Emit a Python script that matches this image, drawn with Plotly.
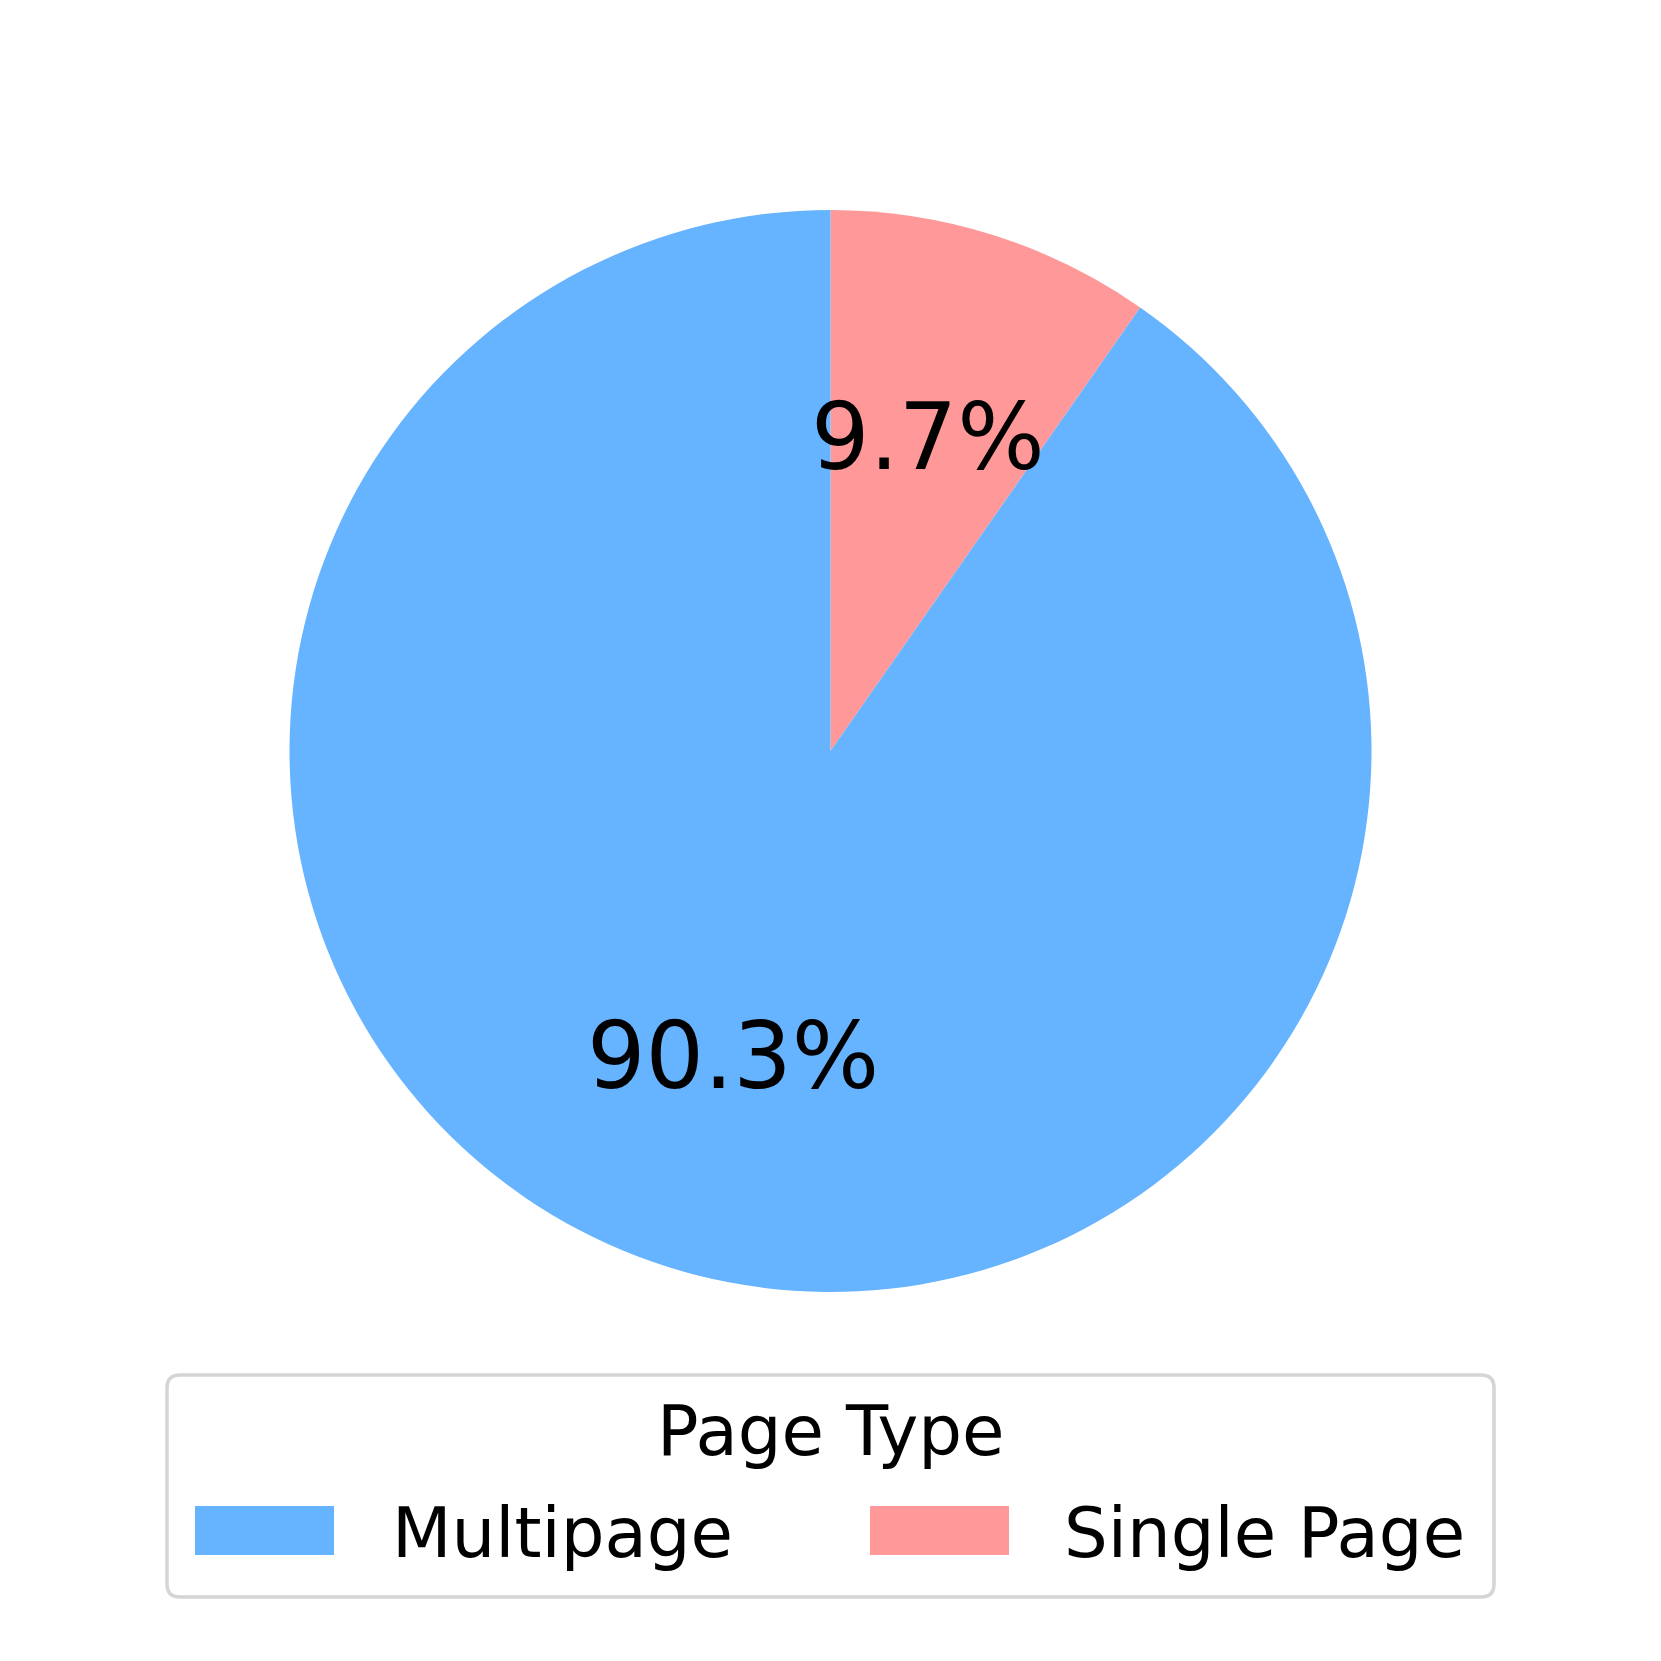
import math
import plotly.graph_objects as go

# ---- data ----
categories = ["Multipage", "Single Page"]
shares = [90.3, 9.7]
colors = ["#66b3ff", "#ff9999"]
legend_title = "Page Type"

W = H = 1661
FONT = "DejaVu Sans"
OFF = 8  # page body margin in the browser

# pie geometry (pixels)
cx, cy, R = 830.5, 751.0, 541.0
pct_distance = 0.6
start_angle = 90.0  # degrees, math convention; wedges go counterclockwise

def px_x(x):
    return (x - OFF) / W

def px_y(y):
    return 1 - (y - OFF) / H

fig = go.Figure()
# Plotly draws clockwise from 12 o'clock; reversing the order reproduces the
# counterclockwise-from-top layout (Multipage starting at 12 o'clock going left).
fig.add_trace(go.Pie(
    labels=categories[::-1],
    values=shares[::-1],
    marker=dict(colors=colors[::-1], line=dict(width=0)),
    sort=False,
    direction="clockwise",
    rotation=0,
    textinfo="none",
    hoverinfo="label+percent",
    showlegend=False,
    domain=dict(x=[px_x(cx - R), px_x(cx + R)], y=[px_y(cy + R), px_y(cy - R)]),
))

annotations = []
shapes = []

# percentage labels at the middle of each wedge
total = sum(shares)
theta = start_angle
for v in shares:
    frac = v / total
    mid = math.radians(theta + frac * 360 / 2)
    lx = cx + pct_distance * R * math.cos(mid)
    ly = cy - pct_distance * R * math.sin(mid)
    annotations.append(dict(
        x=px_x(lx), y=px_y(ly), xref="paper", yref="paper",
        text=f"{frac*100:.1f}%", showarrow=False,
        xanchor="center", yanchor="middle", yshift=4,
        font=dict(family=FONT, size=92, color="black"),
    ))
    theta += frac * 360

# ---- legend (drawn) ----
bx0, bx1, by0, by1, rad = 167, 1494, 1375, 1597, 13
path = (f"M {px_x(bx0+rad)},{px_y(by0)} L {px_x(bx1-rad)},{px_y(by0)} "
        f"Q {px_x(bx1)},{px_y(by0)} {px_x(bx1)},{px_y(by0+rad)} "
        f"L {px_x(bx1)},{px_y(by1-rad)} Q {px_x(bx1)},{px_y(by1)} {px_x(bx1-rad)},{px_y(by1)} "
        f"L {px_x(bx0+rad)},{px_y(by1)} Q {px_x(bx0)},{px_y(by1)} {px_x(bx0)},{px_y(by1-rad)} "
        f"L {px_x(bx0)},{px_y(by0+rad)} Q {px_x(bx0)},{px_y(by0)} {px_x(bx0+rad)},{px_y(by0)} Z")
shapes.append(dict(type="path", xref="paper", yref="paper", path=path,
                   line=dict(color="#d5d5d5", width=3.5), fillcolor="rgba(255,255,255,0.8)"))

annotations.append(dict(
    x=px_x(830.5), y=px_y(1431), xref="paper", yref="paper", text=legend_title,
    showarrow=False, xanchor="center", yanchor="middle",
    font=dict(family=FONT, size=69, color="black"),
))

swatch_x = [195, 870]
text_x = [390, 1062]
sw_w, sw_y0, sw_y1 = 139, 1506, 1555
for i, cat in enumerate(categories):
    shapes.append(dict(type="rect", xref="paper", yref="paper",
                       x0=px_x(swatch_x[i]), x1=px_x(swatch_x[i] + sw_w),
                       y0=px_y(sw_y1), y1=px_y(sw_y0),
                       fillcolor=colors[i], line=dict(width=0)))
    annotations.append(dict(
        x=px_x(text_x[i]), y=px_y(1533), xref="paper", yref="paper", text=cat,
        showarrow=False, xanchor="left", yanchor="middle",
        font=dict(family=FONT, size=69, color="black"),
    ))

fig.update_layout(
    width=W, height=H,
    margin=dict(l=0, r=0, t=0, b=0),
    paper_bgcolor="white", plot_bgcolor="white",
    annotations=annotations, shapes=shapes,
    font=dict(family=FONT),
)

fig.write_html("out.html")
